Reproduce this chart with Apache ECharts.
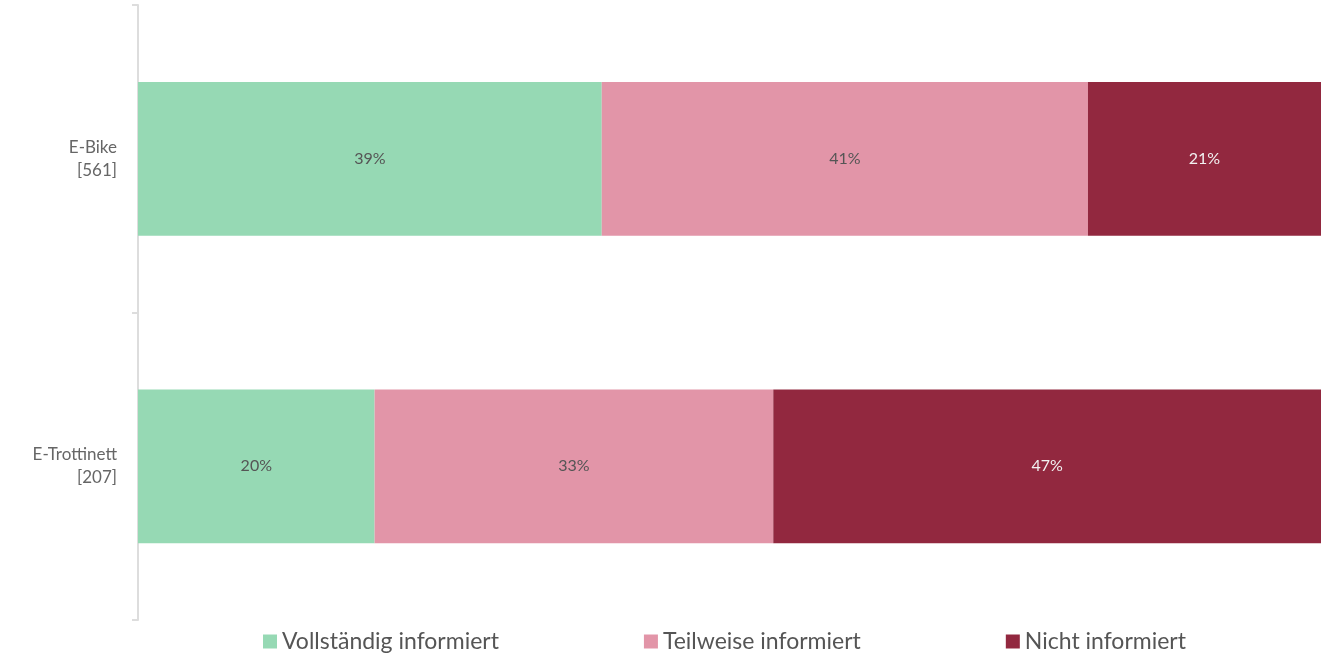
<!DOCTYPE html>
<html>
<head>
<meta charset="utf-8">
<script src="https://cdn.jsdelivr.net/npm/echarts@6/dist/echarts.min.js"></script>
<style>html,body{margin:0;padding:0;background:#fff}#c{width:1321px;height:654px}</style>
</head>
<body>
<div id="c"></div>
<script>
const categories = ['E-Bike\n[561]', 'E-Trottinett\n[207]'];
const seriesNames = ['Vollständig informiert', 'Teilweise informiert', 'Nicht informiert'];
const vollstaendig = [39.2, 20.0];
const teilweise = [41.1, 33.7];
const nicht = [21, 47];
const colors = ['#96d9b4', '#e295a8', '#92283f'];
const labelColors = ['#555555', '#555555', '#f2f2f2'];

const font = '"Source Sans Pro", "Lato", sans-serif';
const chart = echarts.init(document.getElementById('c'));
const dataSets = [vollstaendig, teilweise, nicht];
chart.setOption({
  animation: false,
  textStyle: { fontFamily: font },
  grid: { left: 138, right: 0, top: 5, bottom: 34, containLabel: false },
  legend: {
    bottom: -4, left: 258, itemGap: 145, itemWidth: 14, itemHeight: 14,
    icon: 'rect',
    textStyle: { fontSize: 23, color: '#555', fontFamily: font },
    data: seriesNames
  },
  xAxis: { type: 'value', min: 0, max: 100, show: false },
  yAxis: {
    type: 'category', inverse: true, data: categories,
    axisLine: { show: true, lineStyle: { color: '#dddddd', width: 2 } },
    axisTick: { show: true, length: 6, lineStyle: { color: '#dddddd', width: 2 } },
    axisLabel: { fontSize: 17, color: '#666', lineHeight: 23, align: 'right', margin: 21, fontFamily: font },
    splitLine: { show: false }
  },
  series: dataSets.map((d, i) => ({
    name: seriesNames[i], type: 'bar', stack: 'total', barWidth: '50%',
    data: d,
    itemStyle: { color: colors[i] },
    label: {
      show: true, position: 'inside', fontSize: 16, color: labelColors[i], fontFamily: font,
      formatter: p => Math.floor(p.value) + '%'
    }
  }))
});
</script>
</body>
</html>
